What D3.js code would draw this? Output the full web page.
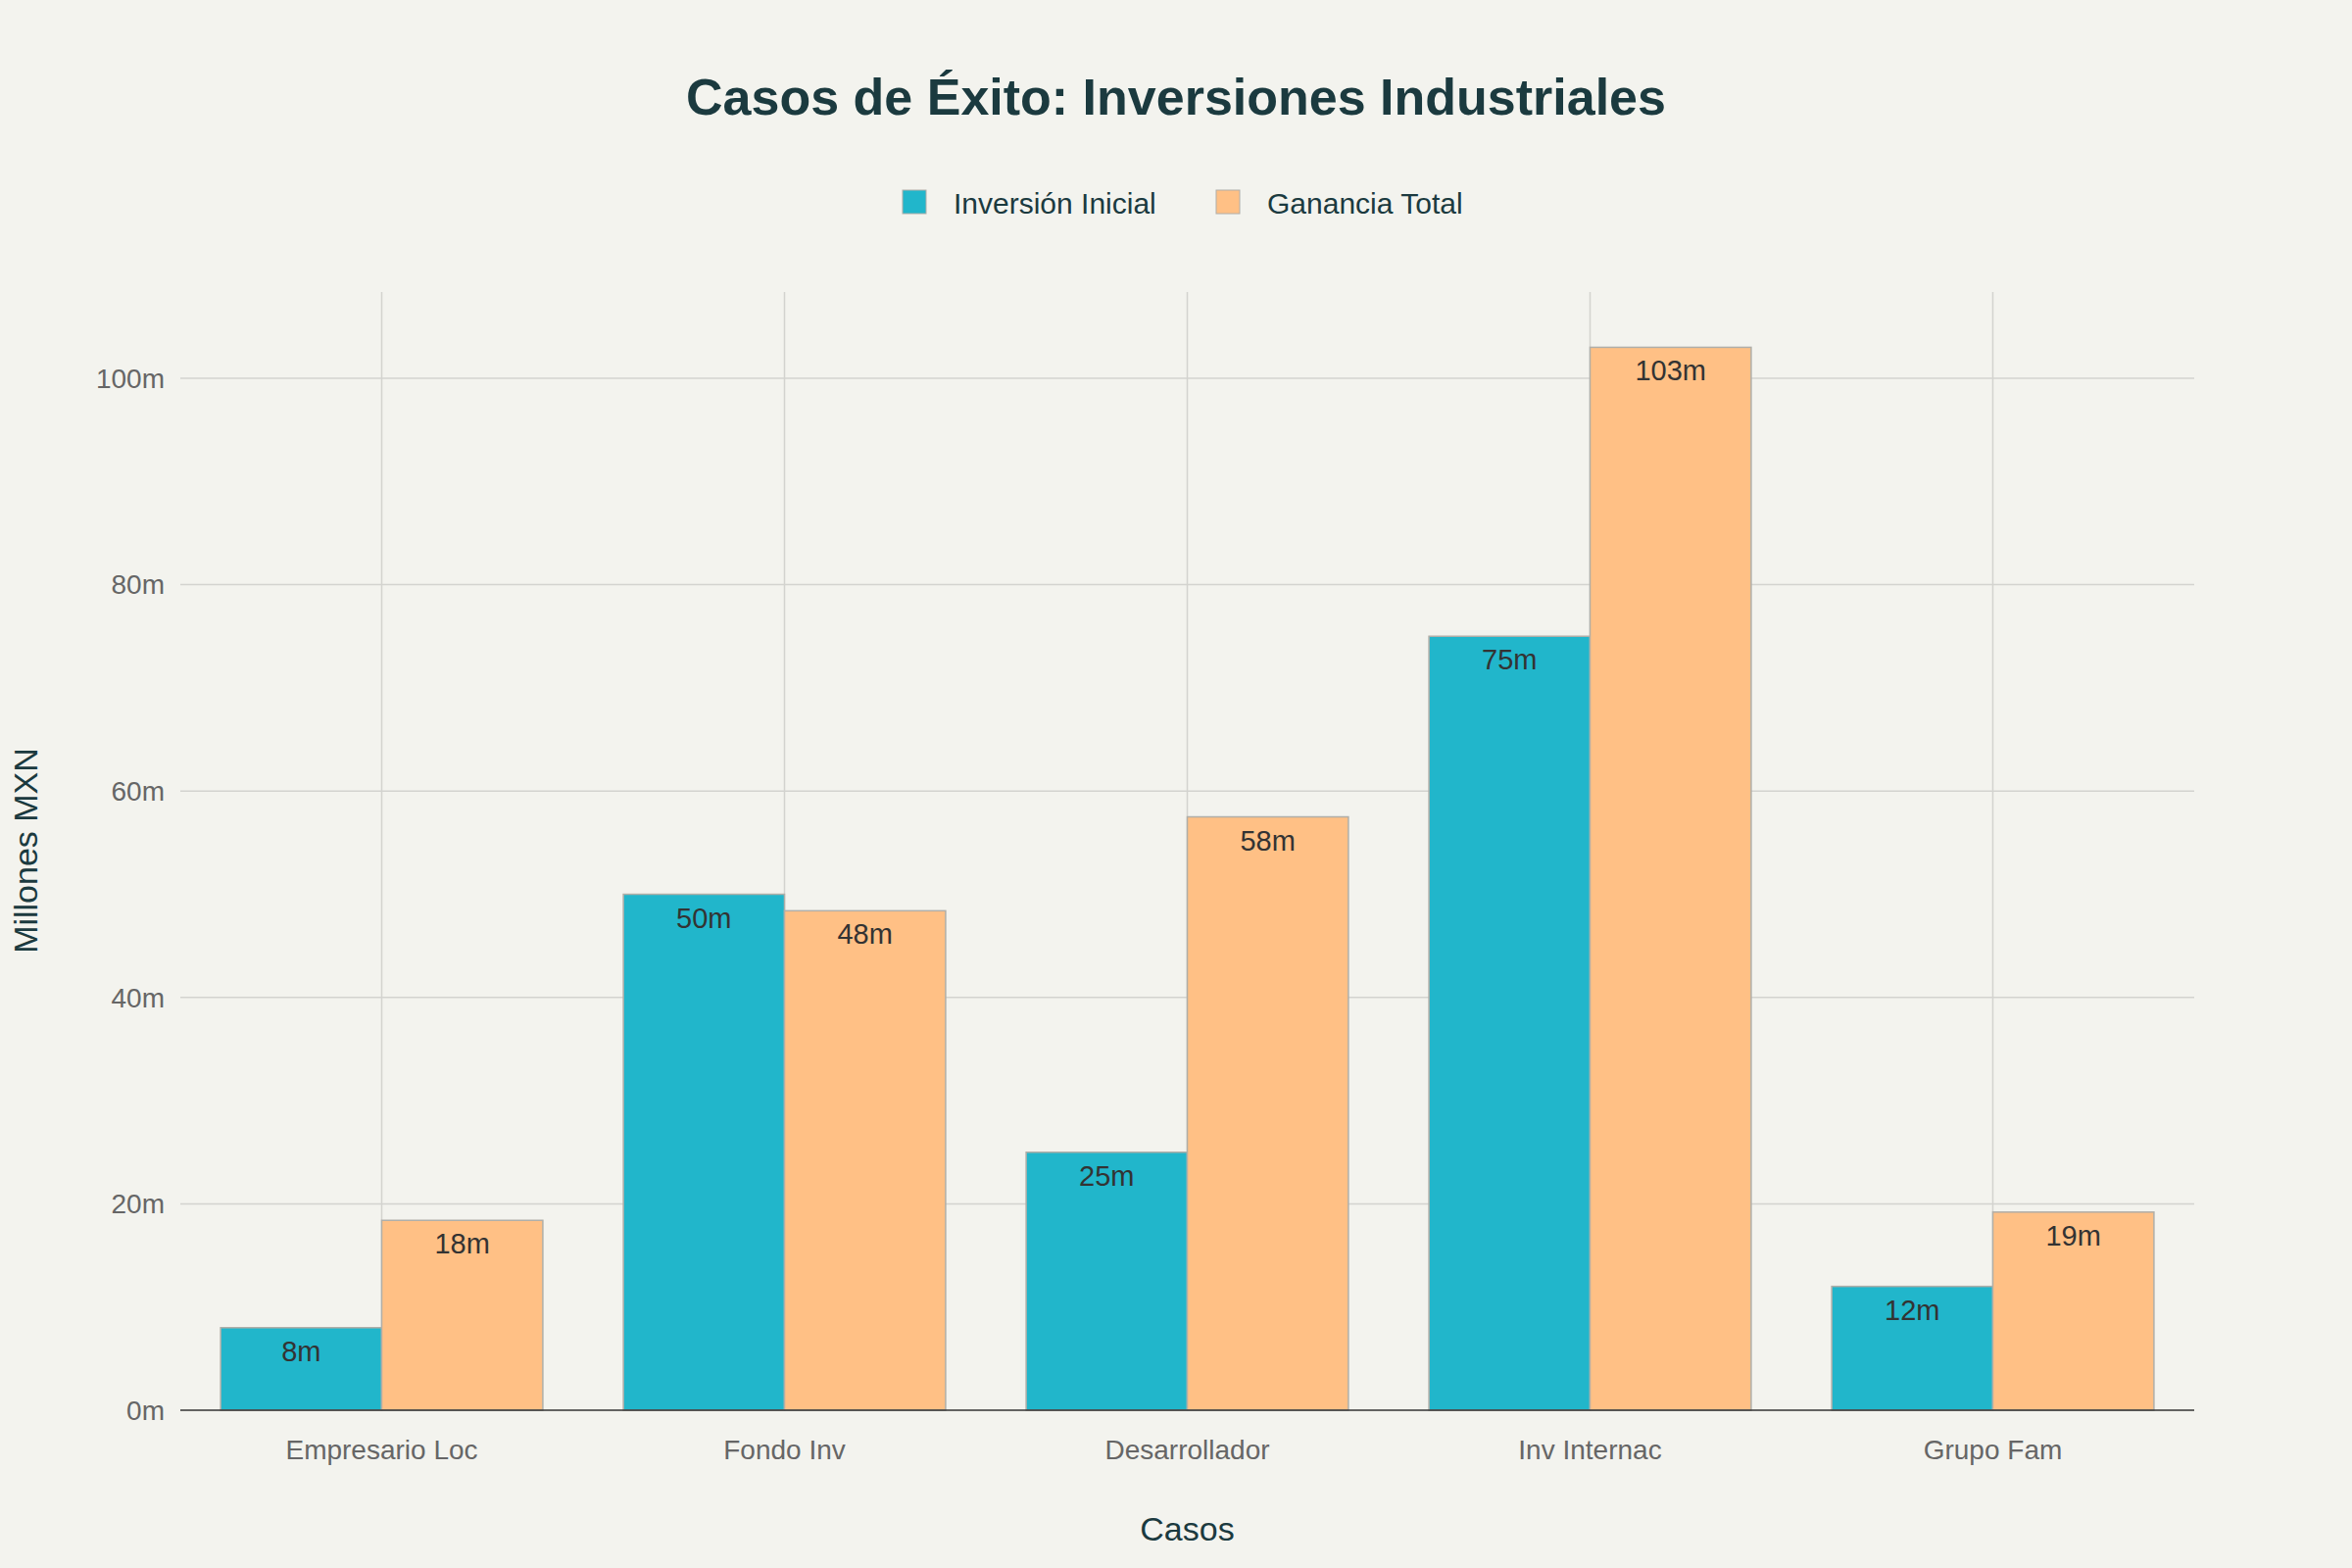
<!DOCTYPE html>
<html><head><meta charset="utf-8">
<script src="https://cdn.jsdelivr.net/npm/d3@7"></script>
<style>body{margin:0;background:#f3f3ee}</style></head>
<body><svg id="c" width="2400" height="1600"></svg>
<script>
const categories=["Empresario Loc","Fondo Inv","Desarrollador","Inv Internac","Grupo Fam"];
const inversion=[8,50,25,75,12];
const ganancia=[18.4,48.4,57.5,103,19.2];
const seriesNames=["Inversión Inicial","Ganancia Total"];
const colors=["#21b6cb","#ffc085"];
const yTicks=[0,20,40,60,80,100];

const svg=d3.select("#c");
const font="'Liberation Sans', Arial, sans-serif";
svg.append("rect").attr("width",2400).attr("height",1600).attr("fill","#f3f3ee");
const L=184,R=2239,T=298,B=1439;
const x=d3.scaleBand().domain(categories).range([L,R]).paddingInner(0.2).paddingOuter(0.1);
const x2=d3.scaleBand().domain([0,1]).range([0,x.bandwidth()]);
const y=d3.scaleLinear().domain([0,100]).range([B,386]);
const g=svg.append("g");
yTicks.forEach(t=>{
  if(t>0)g.append("line").attr("x1",L).attr("x2",R).attr("y1",y(t)).attr("y2",y(t)).attr("stroke","#d3d3cf").attr("stroke-width",1.5);
  g.append("text").attr("x",L-16).attr("y",y(t)).attr("dy","0.35em").attr("text-anchor","end").attr("font-family",font).attr("font-size",28).attr("fill","#666").text(t+"m");
});
categories.forEach(c=>{
  const cx=x(c)+x.bandwidth()/2;
  g.append("line").attr("x1",cx).attr("x2",cx).attr("y1",T).attr("y2",B).attr("stroke","#d3d3cf").attr("stroke-width",1.5);
  g.append("text").attr("x",cx).attr("y",B+50).attr("text-anchor","middle").attr("font-family",font).attr("font-size",28).attr("fill","#666").text(c);
});
[inversion,ganancia].forEach((vals,s)=>{
  categories.forEach((c,i)=>{
    const bx=x(c)+x2(s),by=y(vals[i]);
    g.append("rect").attr("x",bx).attr("y",by).attr("width",x2.bandwidth()).attr("height",B-by)
     .attr("fill",colors[s]).attr("stroke","#b0aea8").attr("stroke-width",1.5);
    g.append("text").attr("x",bx+x2.bandwidth()/2).attr("y",by+34).attr("text-anchor","middle")
     .attr("font-family",font).attr("font-size",29).attr("fill","#333").text(Math.round(vals[i])+"m");
  });
});
g.append("line").attr("x1",L).attr("x2",R).attr("y1",B).attr("y2",B).attr("stroke","#333").attr("stroke-width",1.5);
svg.append("text").attr("x",1200).attr("y",117).attr("text-anchor","middle").attr("font-family",font).attr("font-weight","bold").attr("font-size",52).attr("fill","#1b3a3f").text("Casos de Éxito: Inversiones Industriales");
svg.append("text").attr("x",(L+R)/2).attr("y",1572).attr("text-anchor","middle").attr("font-family",font).attr("font-size",34).attr("fill","#1b3a3f").text("Casos");
svg.append("text").attr("transform","translate(38,868) rotate(-90)").attr("text-anchor","middle").attr("font-family",font).attr("font-size",34).attr("fill","#1b3a3f").text("Millones MXN");
const lx=[921,1241];
seriesNames.forEach((n,i)=>{
  svg.append("rect").attr("x",lx[i]).attr("y",194).attr("width",24).attr("height",24).attr("fill",colors[i]).attr("stroke","#b0aea8");
  svg.append("text").attr("x",lx[i]+52).attr("y",207).attr("dy","0.35em").attr("font-family",font).attr("font-size",30).attr("fill","#1b3a3f").text(n);
});
</script></body></html>
